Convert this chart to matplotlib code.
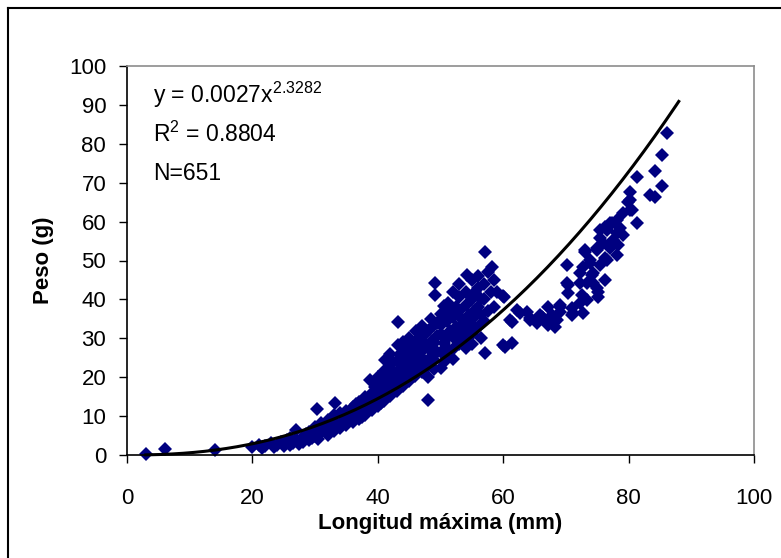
import matplotlib.pyplot as plt
from matplotlib.lines import Line2D
import numpy as np

# Peso vs longitud: pares (longitud mm, peso g)
puntos_pequenos = [
    (3, 0.3), (6, 1.6), (14, 1.4), (20, 2.0), (21, 2.6), (21.5, 1.8), (22, 2.2),
    (23, 3.0), (23.5, 2.0), (24, 2.6), (24.5, 3.4), (25, 2.2), (25.5, 3.8),
    (26, 2.6), (26, 4.3), (26.5, 3.1), (27, 6.5), (27, 3.8), (27.5, 2.8),
    (28, 4.6), (28, 3.3), (28.5, 5.4), (29, 3.9), (29, 6.0), (29.5, 4.4),
    (30, 5.0), (30, 7.2), (30.3, 11.8), (30.5, 4.0),
]
puntos_medianos = [
    (31, 5.8), (31, 8.2), (31.5, 6.6), (32, 5.2), (32, 9.0), (32.5, 7.4),
    (33, 6.2), (33, 10.2), (33.2, 13.4), (33.5, 8.0), (34, 7.0), (34, 10.8),
    (34.5, 8.8), (35, 7.6), (35, 11.4), (35.5, 9.6), (36, 8.4), (36, 12.4),
    (36.5, 10.4), (36.5, 13.0), (37, 9.2), (37, 13.6), (37.5, 11.6), (37.5, 9.8),
    (38, 10.2), (38, 14.8), (38, 12.0), (38.5, 12.8), (38.8, 19.3), (39, 11.6),
    (39, 16.0), (39, 14.2), (39.5, 13.8), (39.5, 17.5),
    (40, 12.6), (40, 17.2), (40, 20.0), (40.5, 15.0), (40.5, 18.6), (40.5, 13.4),
    (41, 14.0), (41, 18.0), (41, 21.5), (41.1, 24.4), (41.5, 16.5), (41.5, 20.0),
    (42, 15.2), (42, 19.0), (42, 22.4), (42, 26.0), (42.5, 17.8), (42.5, 21.0),
    (42.5, 24.0), (43, 16.4), (43, 20.4), (43, 24.2), (43.2, 34.2), (43.2, 28.3),
    (43.5, 22.0), (43.5, 18.8), (43.5, 26.0),
    (44, 17.8), (44, 21.0), (44, 25.0), (44, 29.0), (44.5, 23.4), (44.5, 19.6),
    (44.5, 27.0), (45, 19.0), (45, 22.6), (45, 26.6), (45, 30.2), (45.5, 24.8),
    (45.5, 21.0), (45.5, 28.0), (46, 20.2), (46, 24.0), (46, 28.4), (46.1, 32.0),
    (46.5, 26.2), (46.5, 22.4), (46.5, 30.0), (47, 21.4), (47, 25.0), (47, 29.6),
    (47, 33.2), (47.5, 27.4), (47.5, 23.6), (47.5, 31.0),
]
puntos_grandes = [
    (48, 14.1), (48, 23.0), (48, 27.4), (48, 31.8), (48, 20.0), (48.5, 25.2),
    (48.5, 35.0), (48.5, 29.0), (49, 24.4), (49, 28.8), (49, 33.4), (49, 22.0),
    (49.1, 44.2), (49.1, 41.1), (49.5, 30.6), (49.5, 26.5), (49.5, 34.0),
    (50, 22.4), (50, 26.4), (50, 31.0), (50, 36.2), (50, 33.5), (50.5, 28.8),
    (50.5, 38.4), (50.5, 24.0), (51, 25.0), (51, 30.0), (51, 34.4), (51, 27.5),
    (51.2, 39.1), (51.5, 32.0), (51.5, 36.5), (52, 27.2), (52, 31.4), (52, 35.6),
    (52, 42.0), (52, 24.6), (52.5, 29.6), (52.5, 33.0), (52.5, 38.0),
    (53, 28.6), (53, 33.0), (53, 37.0), (53, 44.0), (53, 40.5), (53.5, 35.0),
    (53.5, 31.0), (54, 30.0), (54, 34.0), (54, 38.6), (54, 42.0), (54, 27.5),
    (54.2, 46.3), (54.5, 32.6), (54.5, 36.0), (55, 31.0), (55, 35.0), (55, 40.0),
    (55, 45.0), (55, 28.5), (55.5, 37.2), (55.5, 33.0), (55.5, 42.0),
    (56, 33.0), (56, 38.0), (56, 43.0), (56, 46.0), (56.5, 36.0), (56.5, 40.0),
    (56.5, 30.0), (57, 34.4), (57, 40.0), (57, 44.0), (57.1, 52.2), (57.1, 26.2),
    (57.5, 47.0), (57.5, 37.0), (58, 42.0), (58.2, 48.3), (58.5, 38.0), (58.5, 45.0),
    (59, 42.0), (60, 41.0), (60, 28.3), (60.1, 40.6), (60.3, 27.8),
    (61.1, 34.7), (61.4, 28.8), (61.4, 34.2), (62.2, 37.3), (62.7, 36.5),
    (63.8, 36.8), (64.3, 35.2), (64.3, 34.7), (65.4, 33.9), (65.9, 36.0),
    (66.2, 35.5), (66.3, 35.2), (67.1, 38.0), (67.1, 33.4), (67.8, 36.0),
    (67.8, 33.9), (68.3, 32.9), (68.6, 34.7), (69.1, 38.6), (69.1, 36.8),
    (69.1, 38.0), (70.2, 48.8), (70.2, 44.2), (70.3, 41.6), (70.3, 43.7),
]
puntos_maximos = [
    (71, 37.8), (71, 36.0), (71.1, 36.5), (72.2, 46.8), (72.2, 44.2), (72.2, 39.0),
    (72.6, 41.1), (72.7, 48.3), (72.7, 36.5), (73, 52.2), (73, 52.7), (73.4, 39.8),
    (73.4, 44.2), (73.8, 50.1), (73.8, 49.4), (74.2, 46.3), (74.3, 46.8),
    (74.3, 44.2), (75, 52.7), (75, 53.2), (75, 42.9), (75.1, 41.9), (75.1, 40.6),
    (75.4, 48.8), (75.4, 55.8), (75.4, 57.8), (75.9, 54.5), (76.2, 45.0),
    (76.2, 50.6), (76.2, 58.6), (76.6, 57.8), (76.6, 50.1), (77, 59.6),
    (77, 53.2), (77.4, 59.6), (77.5, 55.3), (78.1, 60.4), (78.1, 57.1),
    (78.1, 51.4), (78.3, 54.0), (78.6, 58.4), (79.1, 56.6), (79.1, 62.2),
    (79.9, 65.0), (80.2, 67.6), (80.2, 65.6), (80.2, 63.0), (80.5, 63.0),
    (81.3, 71.5), (81.3, 59.6), (83.4, 66.8), (84.2, 66.3), (84.2, 73.0),
    (85.3, 77.1), (85.3, 69.2), (86.2, 82.8),
]

# linea de tendencia potencial mostrada en el grafico
coef_a = 0.0027
coef_b = 2.3282
rango_tendencia = (3, 88)

textos = ["N=651", "R$^2$ = 0.8804", "y = 0.0027x$^{2.3282}$"]

plt.rcParams['font.family'] = ['Liberation Sans', 'DejaVu Sans']
plt.rcParams['mathtext.default'] = 'regular'

W, H = 781, 558
fig = plt.figure(figsize=(W / 100, H / 100), dpi=100)
ax = fig.add_axes([127 / W, 1 - 455 / H, (754 - 127) / W, (455 - 66) / H])

todos = puntos_pequenos + puntos_medianos + puntos_grandes + puntos_maximos
xs = [p[0] for p in todos]
ys = [p[1] for p in todos]
ax.plot(xs, ys, linestyle='none', marker='D', markersize=7,
        color='#000080', markeredgewidth=0, clip_on=False, zorder=2)

xt = np.linspace(rango_tendencia[0], rango_tendencia[1], 200)
ax.plot(xt, coef_a * xt ** coef_b, color='black', lw=2.2, zorder=3, clip_on=False)

ax.set_xlim(0, 100)
ax.set_ylim(0, 100)
ax.set_xticks(range(0, 101, 20))
ax.set_yticks(range(0, 101, 10))
ax.tick_params(axis='both', direction='out', length=6, width=1, labelsize=16)
ax.tick_params(axis='x', pad=18)
ax.tick_params(axis='y', pad=9)
for s in ['top', 'right']:
    ax.spines[s].set_color('#8c8c8c')
    ax.spines[s].set_linewidth(1.2)
for s in ['left', 'bottom']:
    ax.spines[s].set_color('black')
    ax.spines[s].set_linewidth(1.2)

ax.set_xlabel("Longitud máxima (mm)", fontsize=16, fontweight='bold', labelpad=3)
ax.set_ylabel("Peso (g)", fontsize=16, fontweight='bold', labelpad=11)

ax.text(153 / W, 1 - 173 / H, textos[0], transform=fig.transFigure, fontsize=16.5, va='center')
ax.text(153 / W, 1 - 134 / H, textos[1], transform=fig.transFigure, fontsize=16.5, va='center')
ax.text(153 / W, 1 - 95 / H, textos[2], transform=fig.transFigure, fontsize=16.5, va='center')

# marco exterior del grafico
fig.add_artist(Line2D([8 / W, 1], [1 - 8 / H, 1 - 8 / H], color='black', lw=1.5))
fig.add_artist(Line2D([8 / W, 8 / W], [0, 1 - 8 / H], color='black', lw=1.5))

fig.savefig("out.png", dpi=100)
